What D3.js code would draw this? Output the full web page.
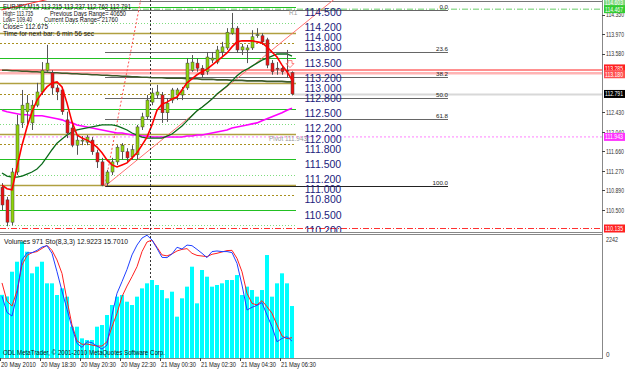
<!DOCTYPE html>
<html><head><meta charset="utf-8">
<script src="https://cdn.jsdelivr.net/npm/d3@7"></script>
<style>
html,body{margin:0;padding:0;background:#fff;}
svg{display:block;font-family:"Liberation Sans",Arial,sans-serif;}
</style></head><body>
<script>
// ---- data (EURJPY M15, one entry per bar) ----
const opens  = [110.95,110.70,110.26,111.25,112.22,112.44,112.22,112.57,112.83,113.26,113.21,112.91,112.87,112.28,112.12,111.78,111.87,111.84,111.88,111.63,111.45,111.03,111.25,111.45,111.65,111.65,111.55,111.59,112.14,112.34,112.63,112.77,112.77,112.42,112.67,112.77,112.77,112.91,113.26,113.40,113.30,113.23,113.46,113.42,113.62,113.70,113.99,114.09,113.66,113.66,113.70,113.94,113.94,113.86,113.40,113.30,113.30,113.26,113.215];
const highs  = [111.03,110.76,111.33,112.38,112.87,112.77,112.67,113.01,113.42,113.76,113.26,112.97,112.91,112.44,112.18,111.98,111.96,111.98,111.94,111.69,111.53,111.29,111.53,111.78,111.82,111.72,111.78,112.18,112.42,112.77,112.91,112.97,112.83,112.71,112.91,112.91,112.93,113.50,113.56,113.50,113.36,113.62,113.62,113.74,113.82,114.09,114.39,114.13,113.78,113.76,114.05,114.09,113.99,113.90,113.46,113.42,113.34,113.66,113.237];
const lows   = [110.50,110.18,110.20,111.19,112.12,112.14,112.08,112.53,112.77,113.23,112.77,112.67,112.38,111.92,111.74,111.59,111.78,111.78,111.59,111.33,110.97,110.97,111.19,111.39,111.49,111.45,111.49,111.49,112.08,112.28,112.57,112.71,112.22,112.24,112.61,112.67,112.67,112.87,113.23,113.23,113.11,113.17,113.40,113.38,113.54,113.66,113.96,113.60,113.56,113.40,113.66,113.90,113.76,113.30,113.17,113.17,113.17,113.11,112.762];
const closes = [110.60,110.26,111.25,112.18,112.57,112.61,112.57,112.83,113.26,113.40,112.91,112.83,112.44,112.02,111.78,111.88,111.88,111.94,111.65,111.45,110.99,111.25,111.45,111.74,111.78,111.53,111.69,112.14,112.34,112.67,112.81,112.83,112.42,112.61,112.87,112.87,112.87,113.40,113.42,113.30,113.17,113.52,113.50,113.66,113.72,114.01,114.09,113.66,113.72,113.70,113.92,113.96,113.82,113.36,113.23,113.28,113.23,113.24,112.791];

const maFast = [110.99,110.92,110.90,111.35,111.78,112.14,112.44,112.67,112.81,112.93,113.01,113.03,112.93,112.61,112.24,111.98,111.92,111.88,111.82,111.74,111.63,111.49,111.39,111.35,111.39,111.43,111.53,111.63,111.78,111.94,112.18,112.47,112.59,112.63,112.69,112.73,112.87,113.01,113.09,113.17,113.23,113.28,113.36,113.44,113.52,113.60,113.72,113.82,113.84,113.84,113.84,113.82,113.80,113.72,113.62,113.52,113.36,113.23,113.07];
const maMid  = [111.23,111.17,111.15,111.15,111.17,111.21,111.25,111.31,111.41,111.55,111.69,111.82,111.90,111.98,112.04,112.08,112.10,112.12,112.14,112.16,112.18,112.18,112.18,112.16,112.12,112.08,112.02,111.98,111.94,111.92,111.92,111.92,111.92,111.96,112.00,112.08,112.16,112.26,112.36,112.46,112.53,112.61,112.69,112.79,112.87,112.95,113.05,113.15,113.23,113.28,113.34,113.40,113.46,113.50,113.54,113.58,113.58,113.58,113.54];
const maSlow = [112.47,112.44,112.42,112.40,112.38,112.38,112.36,112.36,112.36,112.34,112.32,112.30,112.28,112.24,112.22,112.18,112.16,112.14,112.12,112.10,112.08,112.06,112.04,112.02,112.02,112.00,111.98,111.98,111.96,111.96,111.94,111.94,111.94,111.94,111.94,111.94,111.94,111.96,111.96,111.98,111.98,112.00,112.02,112.04,112.06,112.08,112.12,112.14,112.16,112.18,112.20,112.22,112.26,112.30,112.34,112.38,112.42,112.47,112.51];
const maLong = [113.26,113.26,113.25,113.25,113.24,113.24,113.23,113.23,113.22,113.22,113.21,113.21,113.20,113.20,113.19,113.19,113.18,113.18,113.17,113.17,113.16,113.16,113.15,113.15,113.14,113.14,113.13,113.13,113.12,113.12,113.11,113.11,113.11,113.10,113.10,113.10,113.10,113.09,113.09,113.09,113.08,113.08,113.08,113.07,113.07,113.07,113.06,113.06,113.06,113.05,113.05,113.05,113.05,113.04,113.04,113.04,113.04,113.03,113.03];

const volumes = [1180,1150,1612,1799,2173,1986,1582,1706,1799,1395,1395,1177,1301,1146,585,585,367,336,336,585,616,803,990,1146,1177,1052,990,1146,1301,1395,1457,1364,1270,1115,1239,772,1115,1333,1706,1021,1644,1519,1333,1364,1395,1457,1457,1550,1177,1333,1270,1146,1270,1924,1146,1395,1582,1395,971];
const stochK = [49.4,36.3,33.3,50.4,78.9,84.6,84.8,86.7,89.4,90.5,84.3,69.3,53.6,38.8,24.0,11.1,7.8,12.4,11.6,8.9,6.4,9.7,34.1,51.8,61.3,71.2,83.0,91.0,96.7,99.0,95.1,88.3,81.0,80.8,83.8,89.2,87.8,91.0,90.5,87.5,84.3,80.8,85.7,86.2,85.7,85.7,84.9,76.1,58.5,38.2,40.4,42.0,44.2,34.1,24.6,12.4,15.1,16.5,12.92];
const stochD = [60.2,45.5,41.4,53.9,74.7,82.6,84.8,85.7,88.3,90.8,86.7,78.9,67.9,46.2,26.0,13.2,10.3,10.6,9.7,8.9,8.9,12.4,24.6,35.5,49.1,57.7,65.3,73.4,85.7,93.5,95.1,89.2,83.0,82.2,83.8,86.2,87.5,88.1,84.3,82.6,82.1,81.6,83.5,84.3,85.4,86.5,86.7,80.2,69.3,51.8,43.6,42.3,45.8,40.9,35.5,26.0,17.1,14.9,15.70];

// horizontal levels and their labels
const levelSolidGreen = [114.5, 113.5, 112.5, 111.5, 110.5];
const levelDotGreen   = [114.2, 113.2, 112.2, 111.2, 110.2];
const levelSolidOlive = [114.0, 113.0, 112.0, 111.0];
const levelDotOlive   = [113.8, 112.8, 111.8, 110.8];
const levelTexts = ["114.500","114.200","114.000","113.800","113.500","113.200","113.000","112.800","112.500","112.200","112.000","111.800","111.500","111.200","111.000","110.800","110.500","110.200"];
const fibRatios = [0, 23.6, 38.2, 50, 61.8, 100];
const fibHigh = 114.45, fibLow = 110.97;
const pivot = 111.943;

const priceTicks = ["114.350","113.970","113.580","112.430","112.040","111.660","111.270","110.890","110.500"];
const timeTickBars = [0, 8, 16, 24, 32, 40, 48, 56];
const timeTickTexts = ["20 May 2010","20 May 18:30","20 May 20:30","20 May 22:30","21 May 00:30","21 May 02:30","21 May 04:30","21 May 06:30"];

const headerLeft  = ["EURJPY,M15  113.215 113.237 112.762 112.791", "High= 113.735", "Low= 109.40", "Close= 112.675", "Time for next bar: 6 min 56 sec"];
const headerRight = ["", "Previous Days Range= 40650", "Current Days Range= 21760", "", ""];

// ---- layout ----
const W = 625, H = 370;
const plotR = 602, mainTop = 0, mainBot = 232, subTop = 235, subBot = 358;

const svg = d3.select("body").append("svg").attr("width", W).attr("height", H);
svg.append("rect").attr("width", W).attr("height", H).attr("fill", "#fff");

const x = d3.scaleLinear().domain([0, 58]).range([2, 292]);
const y = d3.scaleLinear().domain([110.066, 114.646]).range([mainBot, mainTop]);
const yVol = d3.scaleLinear().domain([0, 2242]).range([subBot, 238]);
const ySto = d3.scaleLinear().domain([0, 100]).range([357, 234]);

// squeeze small MT4-style text to the width seen on the chart
function fit(sel, w) {
  sel.attr("textLength", w).attr("lengthAdjust", "spacingAndGlyphs");
}

svg.append("clipPath").attr("id", "cm").append("rect")
  .attr("x", 0).attr("y", mainTop).attr("width", plotR).attr("height", mainBot - mainTop);
svg.append("clipPath").attr("id", "cs").append("rect")
  .attr("x", 0).attr("y", subTop).attr("width", plotR).attr("height", subBot - subTop);

const main = svg.append("g").attr("clip-path", "url(#cm)");

// level lines
const lvl = main.append("g");
function hlines(vals, color, dash, w) {
  lvl.selectAll(null).data(vals).enter().append("line")
    .attr("x1", 0).attr("x2", 296)
    .attr("y1", d => Math.round(y(d)) + 0.5).attr("y2", d => Math.round(y(d)) + 0.5)
    .attr("stroke", color).attr("stroke-width", w).attr("stroke-dasharray", dash);
}
hlines(levelDotGreen, "#7fdc7f", "1,2", 1);
hlines(levelDotOlive, "#a89020", "2,2", 1);
hlines(levelSolidOlive, "#b0a040", null, 1.5);
hlines(levelSolidGreen, "#22c022", null, 1.2);

// full width lines
main.append("line").attr("x1", 0).attr("x2", plotR).attr("y1", 1.5).attr("y2", 1.5).attr("stroke", "#777");
main.append("line").attr("x1", 0).attr("x2", plotR).attr("y1", y(114.465)).attr("y2", y(114.465))
  .attr("stroke", "#66cc66").attr("stroke-dasharray", "6,2,1,2");
main.append("line").attr("x1", 0).attr("x2", plotR).attr("y1", y(113.199)).attr("y2", y(113.199))
  .attr("stroke", "#ffb4b4").attr("stroke-width", 2.5);
main.append("line").attr("x1", 0).attr("x2", plotR).attr("y1", y(113.264)).attr("y2", y(113.264))
  .attr("stroke", "#ff2020").attr("stroke-width", 1);
main.append("line").attr("x1", 0).attr("x2", plotR).attr("y1", y(pivot)).attr("y2", y(pivot))
  .attr("stroke", "#ff80ff").attr("stroke-dasharray", "2,2");
main.append("line").attr("x1", 0).attr("x2", plotR).attr("y1", y(110.135)).attr("y2", y(110.135))
  .attr("stroke", "#ff3030").attr("stroke-dasharray", "6,2,1,2");
main.append("line").attr("x1", x(58) + 2).attr("x2", plotR).attr("y1", y(112.791) + 0.5).attr("y2", y(112.791) + 0.5)
  .attr("stroke", "#d8d8d8").attr("stroke-width", 2);

// fibonacci retracement
const fibY = d => Math.round(y(fibLow + (fibHigh - fibLow) * (1 - d / 100))) + 0.5;
const fib = main.append("g");
fib.selectAll("line").data(fibRatios).enter().append("line")
  .attr("x1", x(20.6)).attr("x2", x(89.2))
  .attr("y1", fibY).attr("y2", fibY)
  .attr("stroke", d => d === 100 ? "#222" : "#666").attr("stroke-width", 1.2);
fib.selectAll("text").data(fibRatios).enter().append("text")
  .attr("x", x(89.2)).attr("y", d => fibY(d) - 2)
  .attr("text-anchor", "end").attr("font-size", 6.2).attr("fill", "#222")
  .text(d => d.toFixed(1));

// trend lines
function ray(p0, p1, color, dash) {
  const slope = (y(p1[1]) - y(p0[1])) / (x(p1[0]) - x(p0[0]));
  const x0 = x(p0[0]), y0 = y(p0[1]);
  const xEnd = x0 + (mainTop - 5 - y0) / slope;
  main.append("line").attr("x1", x0).attr("y1", y0).attr("x2", xEnd).attr("y2", mainTop - 5)
    .attr("stroke", color).attr("stroke-width", 1).attr("stroke-dasharray", dash);
}
ray([20.6, 110.97], [59.6, 114.11], "#ff7070", null);
ray([20.6, 110.99], [26.2, 113.86], "#ff5050", "2,2");
ray([-0.1, 114.45], [8.6, 114.646], "#ff3030", null);

// moving averages
const lineGen = d3.line().x((d, i) => x(i)).y(d => y(d));
main.append("path").datum(maLong).attr("d", lineGen).attr("fill", "none").attr("stroke", "#3d5a2a").attr("stroke-width", 1.6);
main.append("path").datum(maSlow).attr("d", lineGen).attr("fill", "none").attr("stroke", "#ff00ff").attr("stroke-width", 1.6);
main.append("path").datum(maMid).attr("d", lineGen).attr("fill", "none").attr("stroke", "#0a6a1a").attr("stroke-width", 1.3);

// candles
const bars = d3.range(opens.length);
const cg = main.append("g");
cg.selectAll("line").data(bars).enter().append("line")
  .attr("x1", i => Math.round(x(i)) + 0.5).attr("x2", i => Math.round(x(i)) + 0.5)
  .attr("y1", i => y(highs[i])).attr("y2", i => y(lows[i]))
  .attr("stroke", "#555").attr("stroke-width", 1);
cg.selectAll("rect").data(bars).enter().append("rect")
  .attr("x", i => Math.round(x(i)) - 1)
  .attr("y", i => y(Math.max(opens[i], closes[i])))
  .attr("width", 3)
  .attr("height", i => Math.max(1, Math.abs(y(opens[i]) - y(closes[i]))))
  .attr("fill", i => closes[i] >= opens[i] ? "#8ed40a" : "#ee1111")
  .attr("stroke", "#444").attr("stroke-width", 0.5);

main.append("path").datum(maFast).attr("d", lineGen).attr("fill", "none").attr("stroke", "#ff0000").attr("stroke-width", 1.6);

// small arrow marker near last bars
main.append("path").attr("d", `M${x(57.2)},${y(113.45)} h4 v3 h2 l-4,4 l-4,-4 h2 z`)
  .attr("fill", "none").attr("stroke", "#ff6060").attr("stroke-width", 0.8);

// level text labels
main.selectAll("text.lv").data(levelTexts).enter().append("text")
  .attr("x", 323).attr("y", d => y(+d) + 8.5)
  .attr("text-anchor", "middle").attr("font-size", 10.5).attr("fill", "#1c1c7c")
  .text(d => d);

main.append("text").attr("x", 289).attr("y", 15).attr("font-size", 6.5).attr("fill", "#999").text("R1");
main.append("text").attr("x", 269).attr("y", y(pivot) + 4).attr("font-size", 6.5).attr("fill", "#999")
  .text("Pivot  111.943").call(fit, 38);

// header text
const hdrW = [128, 30, 29, 45, 91];
const hdrRW = [0, 76, 74, 0, 0];
const hdrRX = [0, 50, 44, 0, 0];
const hdr = svg.append("g");
headerLeft.forEach((t, i) => {
  hdr.append("text").attr("x", 3).attr("y", 9 + i * 6.7)
    .attr("font-size", 7.2).attr("fill", "#111").text(t).call(fit, hdrW[i]);
  if (headerRight[i]) {
    hdr.append("text").attr("x", hdrRX[i]).attr("y", 9 + i * 6.7)
      .attr("font-size", 7.2).attr("fill", "#111").text(headerRight[i]).call(fit, hdrRW[i]);
  }
});

// day separator
svg.append("line").attr("x1", 150.5).attr("x2", 150.5).attr("y1", 0).attr("y2", subBot)
  .attr("stroke", "#333").attr("stroke-dasharray", "2,2");

// ---- sub window ----
const sub = svg.append("g").attr("clip-path", "url(#cs)");
sub.selectAll("rect").data(bars).enter().append("rect")
  .attr("x", i => Math.round(x(i)) - 2)
  .attr("y", i => yVol(volumes[i]))
  .attr("width", 4)
  .attr("height", i => subBot - yVol(volumes[i]))
  .attr("fill", "#00ffff");
const stoLine = d3.line().x((d, i) => x(i)).y(d => ySto(d));
sub.append("path").datum(stochD).attr("d", stoLine).attr("fill", "none").attr("stroke", "#ff2020").attr("stroke-width", 1);
sub.append("path").datum(stochK).attr("d", stoLine).attr("fill", "none").attr("stroke", "#2040ff").attr("stroke-width", 1);

svg.append("text").attr("x", 4).attr("y", 244).attr("font-size", 7).attr("fill", "#111")
  .text("Volumes 971  Sto(8,3,3) 12.9223 15.7010").call(fit, 124);
svg.append("text").attr("x", 3).attr("y", 355).attr("font-size", 7).attr("fill", "#111")
  .text("ODL MetaTrader, © 2001-2010 MetaQuotes Software Corp.").call(fit, 162);

// frames
svg.append("line").attr("x1", 0).attr("x2", plotR + 1).attr("y1", mainBot + 0.5).attr("y2", mainBot + 0.5).attr("stroke", "#888");
svg.append("line").attr("x1", 0).attr("x2", plotR + 1).attr("y1", subTop - 0.5).attr("y2", subTop - 0.5).attr("stroke", "#888");
svg.append("line").attr("x1", 0).attr("x2", plotR + 1).attr("y1", subBot + 0.5).attr("y2", subBot + 0.5).attr("stroke", "#888");
svg.append("line").attr("x1", plotR + 0.5).attr("x2", plotR + 0.5).attr("y1", 0).attr("y2", subBot).attr("stroke", "#888");

// price axis
const ax = svg.append("g");
ax.selectAll("line").data(priceTicks).enter().append("line")
  .attr("x1", plotR).attr("x2", plotR + 3)
  .attr("y1", d => Math.round(y(+d)) + 0.5).attr("y2", d => Math.round(y(+d)) + 0.5).attr("stroke", "#444");
ax.selectAll("text").data(priceTicks).enter().append("text")
  .attr("x", plotR + 4).attr("y", d => y(+d) + 2.5).attr("font-size", 6.4).attr("fill", "#333")
  .text(d => d).call(fit, 18);

// price boxes on the axis
const boxes = [
  {p: 114.60, t: "114.603", bg: "#7fd87f"},
  {p: 114.465, t: "114.467", bg: "#33cc33"},
  {p: 113.295, t: "113.285", bg: "#ff2020"},
  {p: 113.180, t: "113.180", bg: "#ff5050"},
  {p: 112.791, t: "112.791", bg: "#000"},
  {p: pivot, t: "111.943", bg: "#ff33ff"},
  {p: 110.135, t: "110.135", bg: "#ff2020"}
];
const bx = svg.append("g").selectAll("g").data(boxes).enter().append("g");
bx.append("rect").attr("x", plotR + 2).attr("y", d => y(d.p) - 4).attr("width", 21).attr("height", 8).attr("fill", d => d.bg);
bx.append("text").attr("x", plotR + 3).attr("y", d => y(d.p) + 2.5).attr("font-size", 6.4).attr("fill", "#fff")
  .text(d => d.t).call(fit, 18);

svg.append("text").attr("x", plotR + 4).attr("y", 242).attr("font-size", 6.4).attr("fill", "#333").text("2242").call(fit, 12);
svg.append("text").attr("x", plotR + 4).attr("y", 357).attr("font-size", 6.4).attr("fill", "#333").text("0");

// time axis
const tx = svg.append("g");
tx.selectAll("line").data(timeTickBars).enter().append("line")
  .attr("x1", d => Math.round(x(d)) - 1.5).attr("x2", d => Math.round(x(d)) - 1.5)
  .attr("y1", subBot).attr("y2", subBot + 3).attr("stroke", "#444");
tx.selectAll("text").data(timeTickBars).enter().append("text")
  .attr("x", d => x(d) - 1).attr("y", 367).attr("font-size", 6.8).attr("fill", "#222")
  .text((d, i) => timeTickTexts[i]).call(fit, 35);
</script>
</body></html>
